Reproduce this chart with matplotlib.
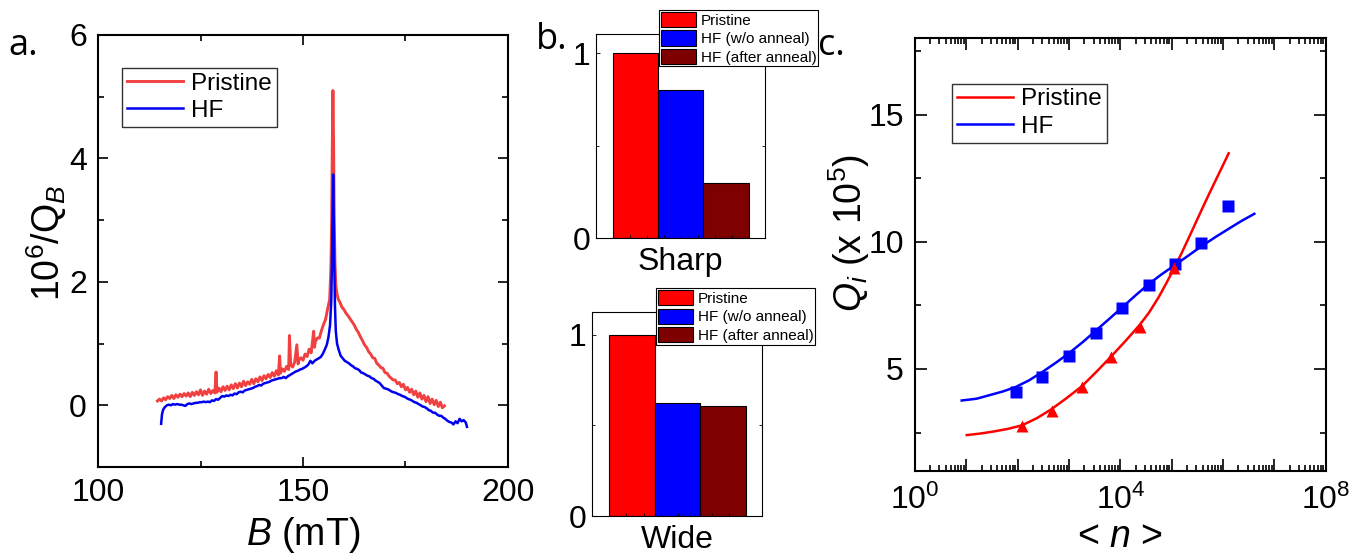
import matplotlib
matplotlib.use('Agg')
import matplotlib.pyplot as plt
from matplotlib.ticker import FixedLocator, NullFormatter, FuncFormatter, LogLocator, NullLocator
import math

plt.rcParams['font.family'] = ['Liberation Sans', 'DejaVu Sans']
plt.rcParams['mathtext.fontset'] = 'custom'
plt.rcParams['mathtext.rm'] = 'Liberation Sans'
plt.rcParams['mathtext.it'] = 'Liberation Sans:italic'
plt.rcParams['mathtext.bf'] = 'Liberation Sans:bold'

# ---------------- Panel a data ----------------
B_pristine = [114.5, 115.0, 115.5, 116.0, 116.5, 117.0, 117.5, 118.0, 118.5, 119.0,
              119.5, 120.0, 120.5, 121.0, 121.5, 122.0, 122.5, 123.0, 123.5, 124.0,
              124.5, 125.0, 125.5, 126.0, 126.5, 127.0, 127.5, 128.0, 128.5, 128.8,
              129.0, 129.5, 130.0, 130.5, 131.0, 131.5, 132.0, 132.5, 133.0, 133.5,
              134.0, 134.5, 135.0, 135.5, 136.0, 136.5, 137.0, 137.5, 138.0, 138.5,
              139.0, 139.5, 140.0, 140.5, 141.0, 141.5, 142.0, 142.5, 143.0, 143.5,
              144.0, 144.3, 144.5, 145.0, 145.5, 146.0, 146.5, 146.7, 147.0, 147.5,
              148.0, 148.5, 148.8, 149.0, 149.5, 150.0, 150.5, 151.0, 151.5, 152.0,
              152.6, 152.8, 153.0, 153.5, 154.0, 154.5, 155.0, 155.5, 156.0, 156.5,
              156.8, 157.0, 157.15, 157.3, 157.45, 157.6, 157.8, 158.0, 158.3, 158.6,
              159.0, 159.5, 160.0, 160.5, 161.0, 161.5, 162.0, 162.5, 163.0, 163.5,
              164.0, 164.5, 165.0, 165.5, 166.0, 166.5, 167.0, 167.5, 168.0, 168.5,
              169.0, 169.5, 170.0, 170.5, 171.0, 171.5, 172.0, 172.5, 173.0, 173.5,
              174.0, 174.5, 175.0, 175.5, 176.0, 176.5, 177.0, 177.5, 178.0, 178.5,
              179.0, 179.5, 180.0, 180.5, 181.0, 181.5, 182.0, 182.5, 183.0, 183.5,
              184.0, 184.5]
Q_pristine = [0.07, 0.10, 0.07, 0.12, 0.09, 0.14, 0.11, 0.16, 0.11, 0.17,
              0.13, 0.18, 0.14, 0.19, 0.15, 0.20, 0.14, 0.21, 0.16, 0.22,
              0.17, 0.25, 0.16, 0.23, 0.18, 0.26, 0.19, 0.24, 0.20, 0.54,
              0.21, 0.28, 0.22, 0.30, 0.24, 0.31, 0.25, 0.33, 0.27, 0.35,
              0.28, 0.36, 0.30, 0.39, 0.32, 0.38, 0.34, 0.42, 0.35, 0.43,
              0.38, 0.46, 0.40, 0.48, 0.43, 0.50, 0.45, 0.53, 0.47, 0.56,
              0.49, 0.80, 0.52, 0.59, 0.55, 0.63, 0.58, 1.13, 0.65, 0.62,
              0.71, 0.98, 0.67, 0.73, 0.77, 0.73, 0.83, 0.79, 0.91, 0.85,
              1.20, 0.94, 1.03, 1.09, 1.09, 1.21, 1.31, 1.39, 1.56, 1.71,
              2.20, 3.00, 4.20, 5.10, 4.30, 3.10, 2.30, 1.95, 1.80, 1.72,
              1.67, 1.59, 1.55, 1.49, 1.45, 1.40, 1.35, 1.30, 1.23, 1.18,
              1.11, 1.05, 0.98, 0.94, 0.87, 0.83, 0.77, 0.76, 0.68, 0.65,
              0.61, 0.60, 0.53, 0.52, 0.47, 0.44, 0.41, 0.41, 0.35, 0.37,
              0.30, 0.34, 0.25, 0.29, 0.21, 0.26, 0.17, 0.23, 0.13, 0.20,
              0.10, 0.16, 0.06, 0.14, 0.03, 0.10, 0.01, 0.08, -0.02, 0.05,
              -0.04, -0.01]

B_hf = [115.4, 115.6, 115.9, 116.3, 116.8, 117.3, 117.8, 118.3, 118.8, 119.3,
        119.8, 120.3, 120.8, 121.3, 121.8, 122.3, 122.8, 123.3, 123.8, 124.3,
        124.8, 125.3, 125.8, 126.3, 126.8, 127.3, 127.8, 128.3, 128.8, 129.3,
        129.8, 130.3, 130.8, 131.3, 131.8, 132.3, 132.8, 133.3, 133.8, 134.3,
        134.8, 135.3, 135.8, 136.3, 136.8, 137.3, 137.8, 138.3, 138.8, 139.3,
        139.8, 140.3, 140.8, 141.3, 141.8, 142.3, 142.8, 143.3, 143.8, 144.3,
        144.8, 145.3, 145.8, 146.3, 146.8, 147.3, 147.8, 148.3, 148.8, 149.3,
        149.8, 150.3, 150.8, 151.3, 151.8, 152.3, 152.8, 153.3, 153.8, 154.3,
        154.8, 155.3, 155.8, 156.2, 156.6, 156.9, 157.1, 157.25, 157.35, 157.45,
        157.6, 157.8, 158.0, 158.3, 158.7, 159.2, 159.7, 160.2, 160.7, 161.2,
        161.7, 162.2, 162.7, 163.2, 163.7, 164.2, 164.7, 165.2, 165.7, 166.2,
        166.7, 167.2, 167.7, 168.2, 168.7, 169.2, 169.7, 170.2, 170.7, 171.2,
        171.7, 172.2, 172.7, 173.2, 173.7, 174.2, 174.7, 175.2, 175.7, 176.2,
        176.7, 177.2, 177.7, 178.2, 178.7, 179.2, 179.7, 180.2, 180.7, 181.2,
        181.7, 182.2, 182.7, 183.2, 183.7, 184.2, 184.7, 185.2, 185.7, 186.2,
        186.7, 187.2, 187.7, 188.2, 188.7, 189.2, 189.7, 190.0]
Q_hf = [-0.30, -0.15, -0.07, -0.03, 0.00, 0.01, 0.00, 0.02, 0.01, 0.02,
        0.01, 0.01, 0.00, -0.01, 0.02, 0.03, 0.02, 0.03, 0.04, 0.04,
        0.05, 0.05, 0.06, 0.05, 0.06, 0.05, 0.08, 0.07, 0.10, 0.09,
        0.12, 0.15, 0.14, 0.16, 0.15, 0.17, 0.16, 0.19, 0.18, 0.21,
        0.22, 0.21, 0.24, 0.25, 0.26, 0.27, 0.28, 0.30, 0.31, 0.33,
        0.32, 0.35, 0.36, 0.37, 0.38, 0.40, 0.41, 0.42, 0.43, 0.44,
        0.44, 0.46, 0.44, 0.47, 0.49, 0.51, 0.53, 0.55, 0.56, 0.58,
        0.59, 0.61, 0.63, 0.66, 0.72, 0.68, 0.72, 0.74, 0.76, 0.78,
        0.83, 0.90, 0.98, 1.10, 1.30, 1.70, 2.50, 3.30, 3.74, 3.30,
        2.40, 1.60, 1.20, 1.00, 0.90, 0.80, 0.76, 0.72, 0.70, 0.68,
        0.65, 0.63, 0.60, 0.59, 0.57, 0.53, 0.52, 0.50, 0.48, 0.47,
        0.44, 0.43, 0.40, 0.38, 0.36, 0.32, 0.28, 0.27, 0.26, 0.24,
        0.22, 0.21, 0.20, 0.18, 0.17, 0.15, 0.14, 0.12, 0.10, 0.09,
        0.07, 0.05, 0.04, 0.02, 0.00, -0.02, -0.03, -0.05, -0.08, -0.09,
        -0.12, -0.12, -0.15, -0.17, -0.17, -0.20, -0.22, -0.25, -0.27, -0.28,
        -0.31, -0.26, -0.29, -0.22, -0.26, -0.24, -0.28, -0.35]

# ---------------- Panel b data ----------------
bar_labels = ['Pristine', 'HF (w/o anneal)', 'HF (after anneal)']
sharp_values = [1.0, 0.80, 0.30]
wide_values = [1.0, 0.623, 0.61]
bar_colors = ['#ff0000', '#0000ff', '#7f0000']

# ---------------- Panel c data ----------------
n_hf = [91, 302, 1000, 3388, 10965, 36308, 114815, 371535, 1.23e6]
Qi_hf = [4.08, 4.68, 5.50, 6.41, 7.39, 8.30, 9.12, 9.94, 11.40]
n_pristine = [120, 457, 1778, 6607, 23988, 109648]
Qi_pristine = [2.75, 3.34, 4.29, 5.46, 6.64, 8.98]

fit_n_hf = [8.13, 15.8, 29.5, 52.5, 91.2, 166, 302, 550, 1000, 1862, 3388, 6166,
            10965, 19953, 36308, 64565, 114815, 208930, 371535, 691831, 1288250,
            2290868, 4073803]
fit_Qi_hf = [3.76, 3.83, 3.98, 4.12, 4.29, 4.55, 4.88, 5.24, 5.62, 6.06, 6.52, 6.98,
             7.43, 7.90, 8.35, 8.73, 9.08, 9.45, 9.81, 10.17, 10.51, 10.82, 11.10]
fit_n_pristine = [10.2, 18.6, 33.9, 63.1, 120, 234, 457, 891, 1778, 3388, 6607, 12589,
                  23988, 36308, 54954, 77625, 109648, 151356, 208930, 281838, 380189,
                  512861, 707946, 954993, 1288250]
fit_Qi_pristine = [2.40, 2.46, 2.54, 2.64, 2.78, 3.06, 3.42, 3.85, 4.32, 4.88, 5.49, 6.10,
                   6.74, 7.22, 7.80, 8.35, 8.93, 9.50, 10.10, 10.67, 11.24, 11.80,
                   12.39, 12.93, 13.48]

W, H = 1366, 557
fig = plt.figure(figsize=(W / 100, H / 100), dpi=100)


def frac(l, t, r, b):
    return [l / W, 1 - b / H, (r - l) / W, (b - t) / H]


LABEL_FS = 27

# ================= Panel a =================
ax = fig.add_axes(frac(98, 35, 508, 467))
ax.plot(B_pristine, Q_pristine, color='#f04040', lw=2.1, label='Pristine')
ax.plot(B_hf, Q_hf, color='#0000f0', lw=1.8, label='HF')
ax.set_xlim(100, 200)
ax.set_ylim(-1, 6)
ax.xaxis.set_major_locator(FixedLocator([100, 150, 200]))
ax.xaxis.set_minor_locator(FixedLocator([125, 175]))
ax.yaxis.set_major_locator(FixedLocator([0, 2, 4, 6]))
ax.yaxis.set_minor_locator(FixedLocator([1, 3, 5]))
ax.tick_params(which='both', direction='in', top=True, right=True, width=1.2)
ax.tick_params(which='major', length=7.5, labelsize=23, pad=8)
ax.tick_params(which='minor', length=4)
for s in ax.spines.values():
    s.set_linewidth(1.5)
ax.set_xlabel('$B$ (mT)', fontsize=LABEL_FS)
ax.set_ylabel(r'$10^6/\mathrm{Q}_B$', fontsize=LABEL_FS)
ax.xaxis.set_label_coords(0.5, -0.11)
ax.yaxis.set_label_coords(-0.07, 0.52)
leg = ax.legend(loc='upper left', bbox_to_anchor=(122 / W, 1 - 67.7 / H), bbox_transform=fig.transFigure,
                fontsize=17.5, handlelength=2.3, handletextpad=0.35, labelspacing=0.22,
                borderpad=0.2, borderaxespad=0, frameon=True, fancybox=False,
                edgecolor='#333333', framealpha=1)
leg.get_frame().set_linewidth(1.0)
fig.text(8 / W, 1 - 46 / H, 'a.', fontsize=26, family=['Open Sans', 'DejaVu Sans'], va='center', ha='left')


# ================= Panel b =================
def bar_panel(rect, values, ylim_top, xlabel, leg_anchor):
    axb = fig.add_axes(rect)
    for i, (v, c, lab) in enumerate(zip(values, bar_colors, bar_labels)):
        axb.bar(i, v, width=1.0, color=c, edgecolor='black', linewidth=0.8, label=lab)
    axb.set_xlim(-0.875, 2.86)
    axb.set_ylim(0, ylim_top)
    axb.xaxis.set_major_locator(NullLocator())
    axb.xaxis.set_minor_locator(FixedLocator([-0.125, 0.25, 0.625, 1.0, 1.375, 1.75, 2.125]))
    axb.yaxis.set_major_locator(FixedLocator([0, 1]))
    axb.yaxis.set_minor_locator(FixedLocator([0.5]))
    axb.tick_params(which='both', direction='in', right=True, width=0.6)
    axb.tick_params(which='major', length=3, labelsize=23, pad=4)
    axb.tick_params(which='minor', length=2.5)
    for s in axb.spines.values():
        s.set_linewidth(0.8)
    axb.set_xlabel(xlabel, fontsize=23)
    axb.xaxis.set_label_coords(0.5, -0.045)
    lg = axb.legend(loc='upper left', bbox_to_anchor=leg_anchor, bbox_transform=fig.transFigure,
                    fontsize=11, handlelength=2.3, handleheight=1.15, handletextpad=0.3,
                    labelspacing=0.18, borderpad=0.12, borderaxespad=0, frameon=True,
                    fancybox=False, edgecolor='black', framealpha=1)
    lg.get_frame().set_linewidth(0.8)
    return axb


bar_panel(frac(595.7, 34.3, 765, 238.3), sharp_values, 1.103, 'Sharp', (659.3 / W, 1 - 10 / H))
bar_panel(frac(592.3, 312.3, 762.3, 516), wide_values, 1.125, 'Wide', (656 / W, 1 - 288.3 / H))
fig.text(536 / W, 1 - 40 / H, 'b.', fontsize=26, family=['Open Sans', 'DejaVu Sans'], va='center', ha='left')

# ================= Panel c =================
axc = fig.add_axes(frac(915, 38.3, 1325.7, 470.7))
axc.plot(fit_n_pristine, fit_Qi_pristine, color='#ff0000', lw=1.8, label='Pristine')
axc.plot(fit_n_hf, fit_Qi_hf, color='#0000ff', lw=1.8, label='HF')
axc.plot(n_hf, Qi_hf, 's', color='#0000ff', ms=8, mec='none')
axc.plot(n_pristine, Qi_pristine, '^', color='#ff0000', ms=9, mec='none')
axc.set_xscale('log')
axc.set_xlim(1, 1e8)
axc.set_ylim(1, 18)
axc.xaxis.set_major_locator(FixedLocator([10.0 ** k for k in range(0, 9)]))
axc.xaxis.set_minor_locator(LogLocator(base=10, subs=range(2, 10), numticks=100))
axc.xaxis.set_minor_formatter(NullFormatter())


def dec_fmt(x, pos):
    k = int(round(math.log10(x)))
    return r'$10^{%d}$' % k if k in (0, 4, 8) else ''


axc.xaxis.set_major_formatter(FuncFormatter(dec_fmt))
axc.yaxis.set_major_locator(FixedLocator([5, 10, 15]))
axc.yaxis.set_minor_locator(FixedLocator([2.5, 7.5, 12.5, 17.5]))
axc.tick_params(which='both', direction='in', top=True, right=True, width=1.2)
axc.tick_params(which='major', length=8.5, labelsize=23, pad=8)
axc.tick_params(which='minor', length=4.3)
axc.tick_params(axis='x', which='major', pad=10)
for s in axc.spines.values():
    s.set_linewidth(1.5)
axc.set_xlabel(r'< $n$ >', fontsize=LABEL_FS)
axc.set_ylabel(r'$Q_i$ (x $10^5$)', fontsize=LABEL_FS)
axc.xaxis.set_label_coords(0.5, -0.112)
axc.yaxis.set_label_coords(-0.105, 0.55)
leg = axc.legend(loc='upper left', bbox_to_anchor=(952 / W, 1 - 83.5 / H), bbox_transform=fig.transFigure,
                 fontsize=17.5, handlelength=2.3, handletextpad=0.35, labelspacing=0.22,
                 borderpad=0.2, borderaxespad=0, frameon=True, fancybox=False,
                 edgecolor='#333333', framealpha=1)
leg.get_frame().set_linewidth(1.0)
fig.text(818 / W, 1 - 46 / H, 'c.', fontsize=26, family=['Open Sans', 'DejaVu Sans'], va='center', ha='left')

fig.savefig('out.png', dpi=100)
